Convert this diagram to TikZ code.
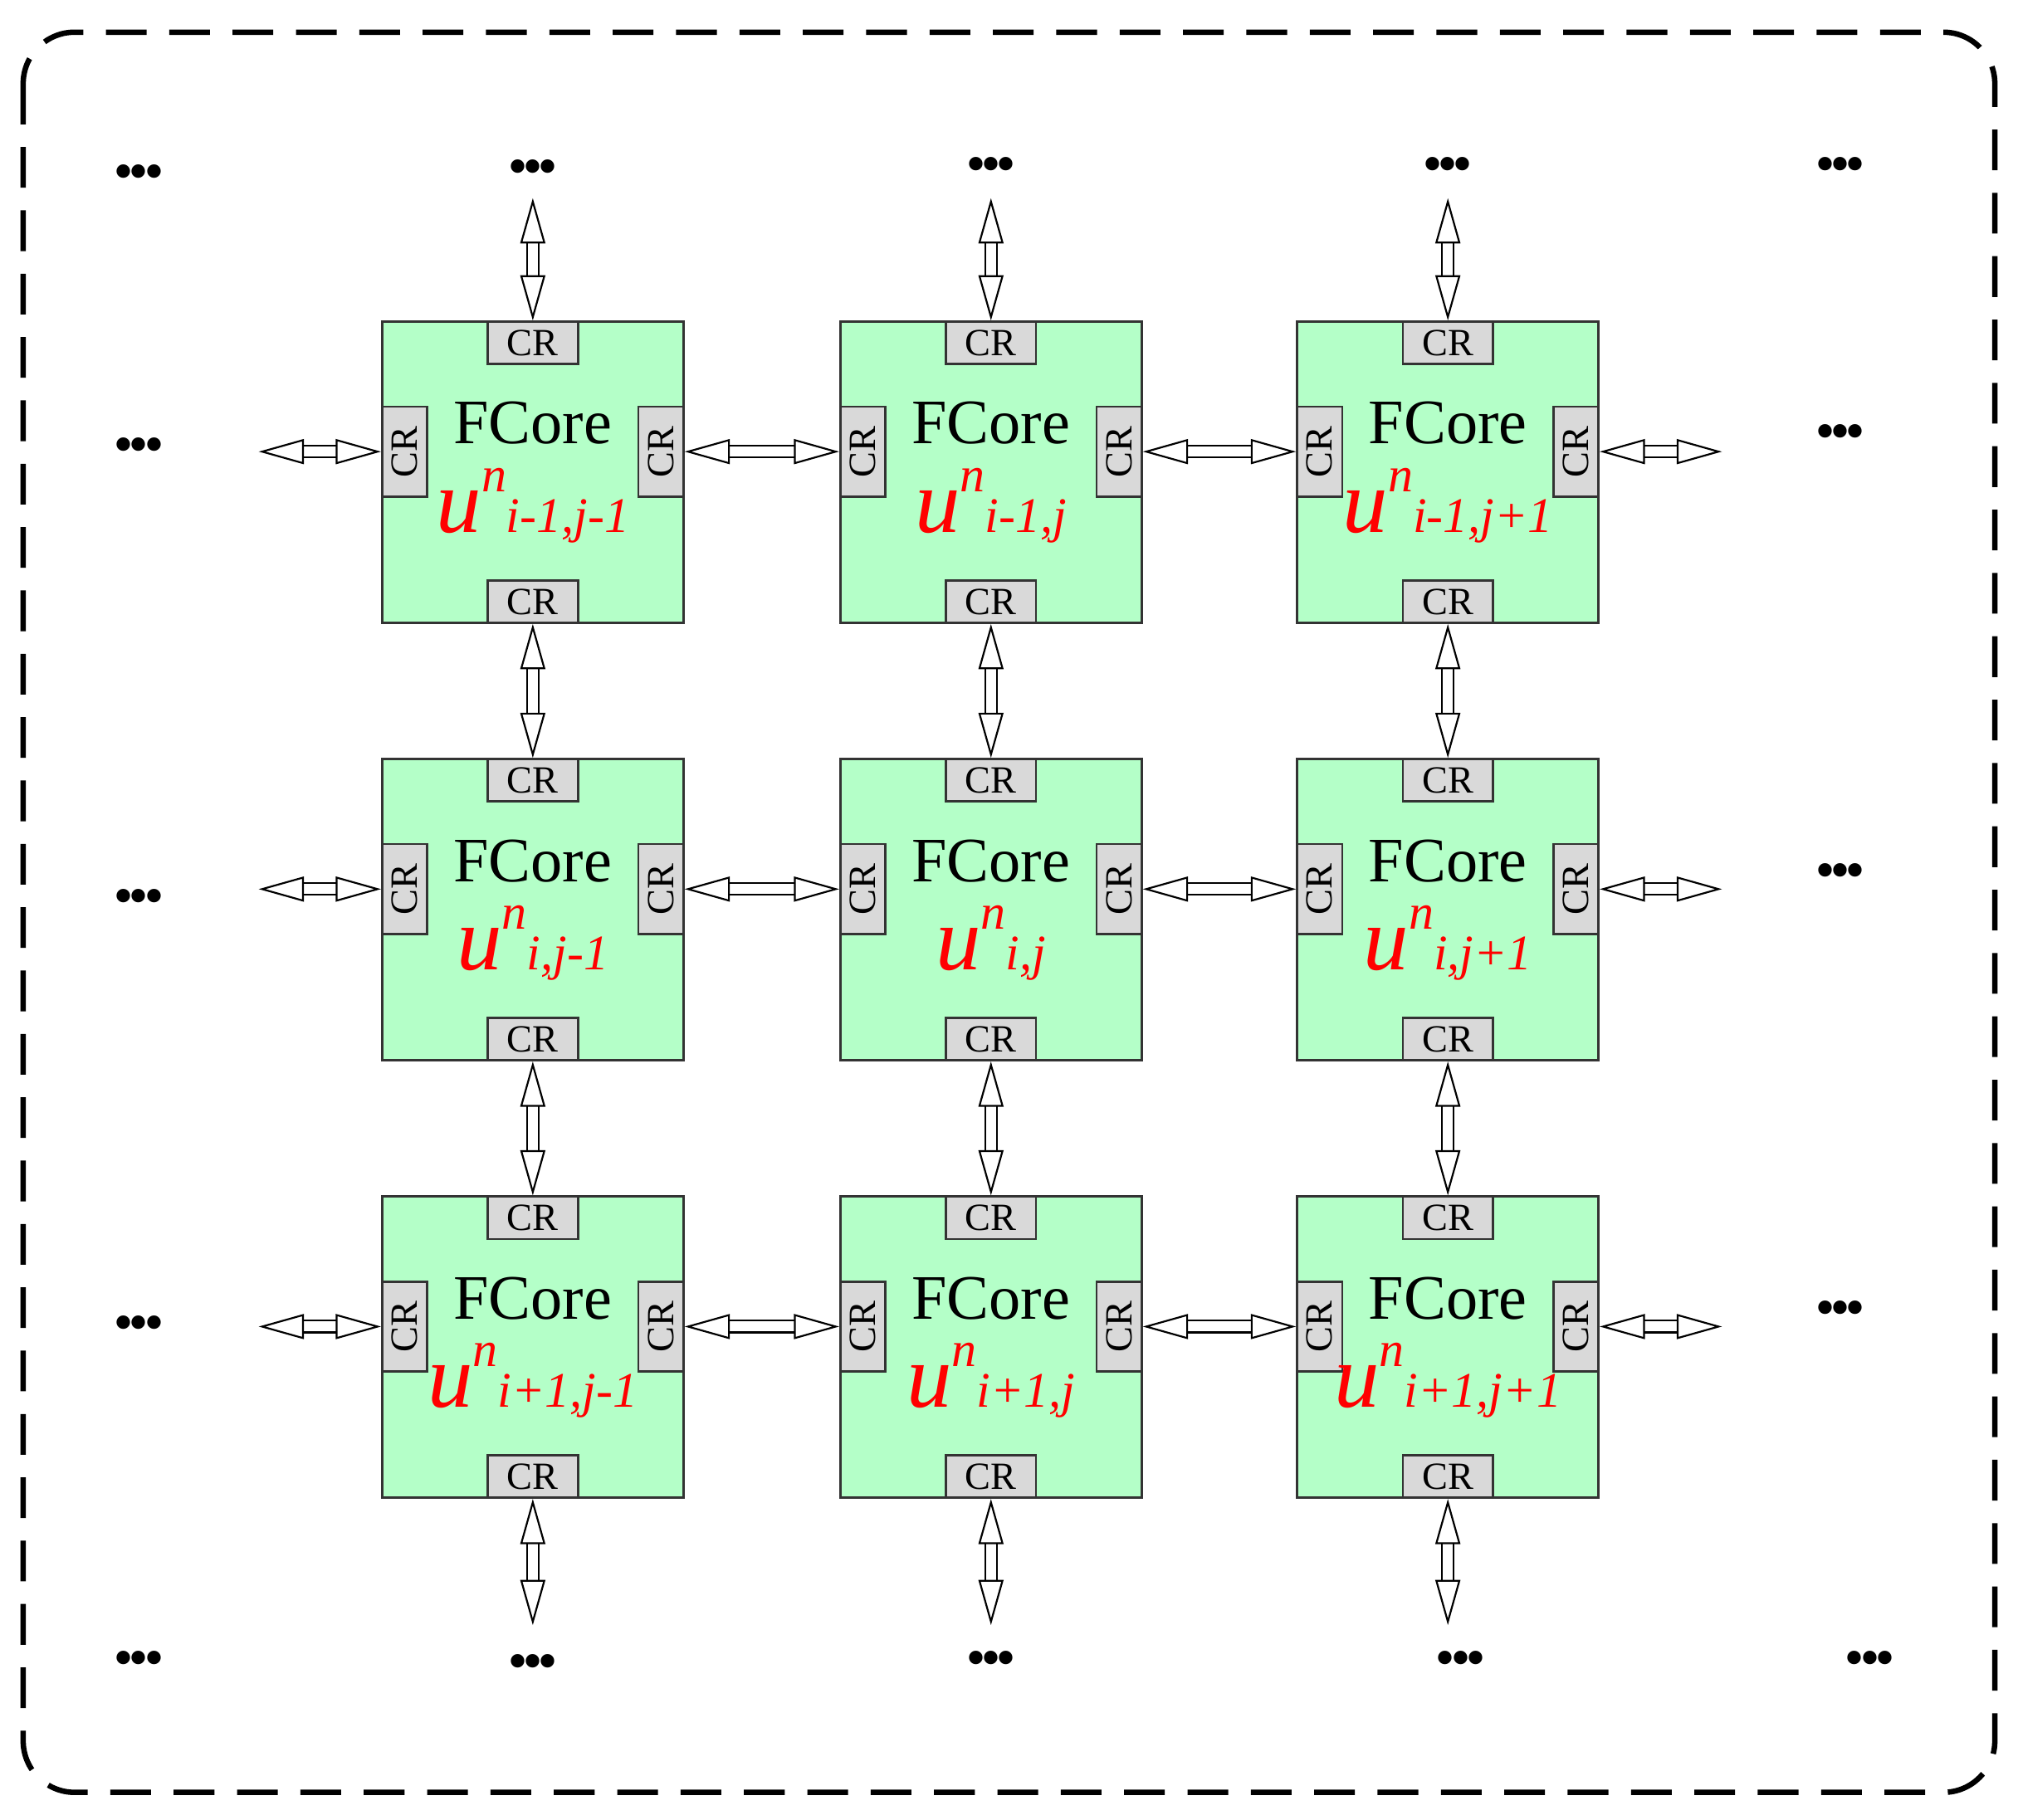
\documentclass[tikz,border=0pt]{standalone}
\usepackage{fontspec}
\setmainfont{Liberation Serif}
\usetikzlibrary{arrows.meta,positioning}
\definecolor{corefill}{RGB}{180,255,200}
\definecolor{crfill}{RGB}{217,217,217}
\newcommand{\ulab}[1]{{\fontsize{20}{20}\selectfont\itshape u}\raisebox{9pt}{\fontsize{11}{11}\selectfont\itshape n}{\fontsize{11}{11}\selectfont\itshape #1}}
\newcommand{\hdots}{\textbf{\textbullet\kern-0.5pt\textbullet\kern-0.5pt\textbullet}}
\tikzset{
  fcore/.style={draw=black!80, fill=corefill, minimum size=2.34cm, inner sep=0pt, line width=0.5pt},
  cr/.style={draw=black!80, fill=crfill, minimum width=0.7cm, minimum height=0.33cm, inner sep=0pt, line width=0.5pt, font=\fontsize{8.5}{8.5}\selectfont},
  crv/.style={cr, rotate=90, minimum height=0.35cm},
  link/.style={{Triangle[open, length=10pt, width=5.5pt]}-{Triangle[open, length=10pt, width=5.5pt]}, double=white, double distance=2.2pt, line width=0.4pt},
  dots/.style={font=\fontsize{11}{11}\selectfont}
}
\begin{document}
\begin{tikzpicture}[x=0.01cm, y=-0.01cm]
  \useasboundingbox (0,0) rectangle (1568,1414);
  \draw[dash pattern=on 9pt off 5pt, line width=1.2pt, rounded corners=0.4cm] (18,25) rectangle (1550,1393);
  % cores
  \foreach \r/\y/\i in {0/367/i-1, 1/707/i, 2/1047/i+1}
  \foreach \c/\x/\j in {0/414/j-1, 1/770/j, 2/1125/j+1} {
    \node[fcore] (b\r\c) at (\x,\y) {};
    \node[cr, anchor=north] (t\r\c) at (b\r\c.north) {CR};
    \node[cr, anchor=south] (d\r\c) at (b\r\c.south) {CR};
    \node[crv, anchor=north] (l\r\c) at ([yshift=0.16cm]b\r\c.west) {CR};
    \node[crv, anchor=south] (e\r\c) at ([yshift=0.16cm]b\r\c.east) {CR};
    \node[font=\fontsize{14}{14}\selectfont] (f\r\c) at (\x,\y-38) {FCore};
    \node[text=red] (u\r\c) at (\x,\y+26) {\ulab{\i,\j}};
  }
  % horizontal links
  \foreach \r in {0,1,2} {
    \draw[link] (e\r0) -- (l\r1);
    \draw[link] (e\r1) -- (l\r2);
    \coordinate (wl\r) at ([xshift=-0.95cm]l\r0.north);
    \coordinate (wr\r) at ([xshift=0.95cm]e\r2.south);
    \draw[link] (wl\r) -- (l\r0);
    \draw[link] (e\r2) -- (wr\r);
  }
  % vertical links
  \foreach \c in {0,1,2} {
    \draw[link] (d0\c) -- (t1\c);
    \draw[link] (d1\c) -- (t2\c);
    \coordinate (nt\c) at ([yshift=0.95cm]t0\c.north);
    \coordinate (nb\c) at ([yshift=-0.98cm]d2\c.south);
    \draw[link] (nt\c) -- (t0\c);
    \draw[link] (d2\c) -- (nb\c);
  }
  % dots
  \foreach \x/\y [count=\k] in {108/137, 414/133, 770/131, 1125/131, 1430/131,
      108/349, 1430/339, 108/700, 1430/680, 108/1032, 1430/1020,
      108/1292, 414/1295, 770/1292, 1135/1292, 1453/1292}
    \node[dots] (p\k) at (\x,\y) {\hdots};
\end{tikzpicture}
\end{document}
